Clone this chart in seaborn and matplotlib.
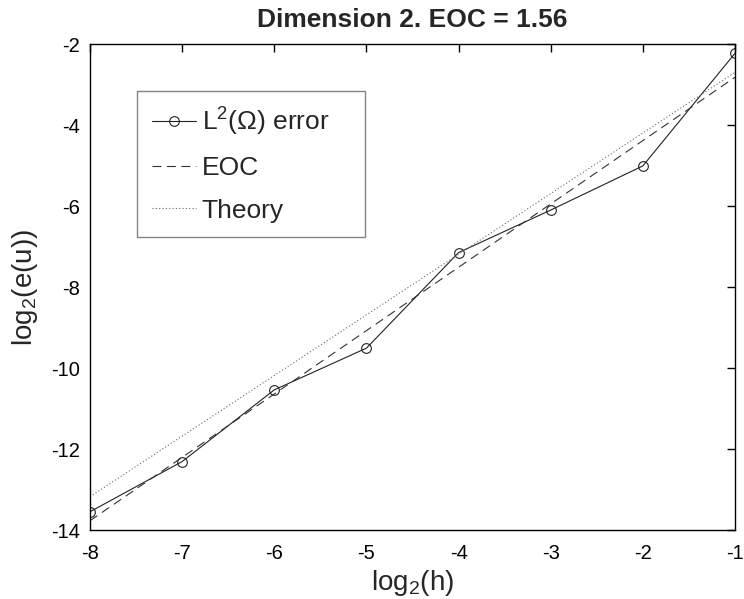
import matplotlib
matplotlib.use("Agg")
import matplotlib.pyplot as plt
import seaborn as sns
import pandas as pd

log2_h = [-8, -7, -6, -5, -4, -3, -2, -1]
log2_err = [-13.55, -12.31, -10.54, -9.51, -7.15, -6.10, -5.01, -2.23]
eoc_x = [-8, -1]
eoc_y = [-13.77, -2.82]
theory_x = [-8, -1]
theory_y = [-13.18, -2.70]
xticks = [-8, -7, -6, -5, -4, -3, -2, -1]
yticks = [-14, -12, -10, -8, -6, -4, -2]

sns.set_style("white")
plt.rcParams['font.family'] = ['Liberation Sans', 'DejaVu Sans']
plt.rcParams['mathtext.fontset'] = 'custom'
plt.rcParams['mathtext.rm'] = 'Liberation Sans'
plt.rcParams['mathtext.it'] = 'Liberation Sans:italic'

L, R, T, B = 90, 735, 44, 530
fig = plt.figure(figsize=(7.44, 5.99), dpi=100)
ax = fig.add_axes([L/744, 1 - B/599, (R-L)/744, (B-T)/599])

df = pd.DataFrame({"x": log2_h, "y": log2_err})
sns.lineplot(data=df, x="x", y="y", ax=ax, color="#222222", lw=0.8,
             marker="o", markersize=7, markerfacecolor="none",
             markeredgecolor="#222222", markeredgewidth=0.8,
             label=r"L$^2$($\Omega$) error")
sns.lineplot(x=eoc_x, y=eoc_y, ax=ax, color="#333333", lw=0.8,
             label="EOC")
ax.lines[-1].set_linestyle((0, (8, 5)))
sns.lineplot(x=theory_x, y=theory_y, ax=ax, color="#666666", lw=0.8,
             label="Theory")
ax.lines[-1].set_linestyle((0, (1, 2)))

ax.set_xlim(-8, -1)
ax.set_ylim(-14, -2)
ax.set_xticks(xticks)
ax.set_yticks(yticks)
ax.set_xticklabels([str(t) for t in xticks])
ax.set_yticklabels([str(t) for t in yticks])
ax.tick_params(direction="in", top=True, right=True, length=6, width=1,
               labelsize=14.5, colors="black")
ax.tick_params(axis="x", pad=10)
ax.tick_params(axis="y", pad=7)
for s in ax.spines.values():
    s.set_color("black")
    s.set_linewidth(1)
    s.set_visible(True)

ax.set_xlabel(r"log$_2$(h)", fontsize=20, labelpad=4)
ax.set_ylabel(r"log$_2$(e(u))", fontsize=20, labelpad=8)
ax.set_title("Dimension 2. EOC = 1.56", fontsize=19, fontweight="bold", pad=12)

x0 = (137-L)/(R-L)
y0 = (B-91)/(B-T)
w = (365-137)/(R-L)
leg = ax.legend(loc="upper left", bbox_to_anchor=(x0, y0 - 0.3, w, 0.3),
                mode="expand",
                fontsize=19, frameon=True, fancybox=False, edgecolor="#666666",
                handlelength=1.7, handletextpad=0.2, labelspacing=0.7,
                borderpad=0.55, borderaxespad=0)
leg.get_frame().set_linewidth(1)

fig.savefig("out.png", dpi=100, facecolor="white")
